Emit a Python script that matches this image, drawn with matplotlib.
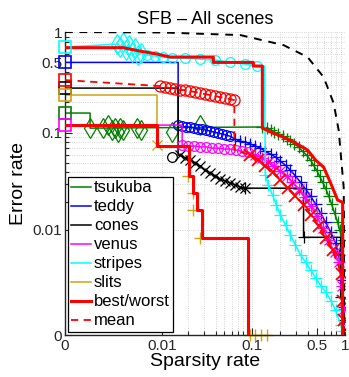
import matplotlib
matplotlib.use("Agg")
import matplotlib.pyplot as plt
import numpy as np

plt.rcParams['font.family'] = ['Liberation Sans', 'DejaVu Sans']

# ---- data (sparsity, error rate) ----
oracle_x = [0, 0.01, 0.0746, 0.218, 0.395, 0.588, 0.752, 0.852, 0.964, 1.0]
oracle_y = [1.0, 0.99, 0.933, 0.742, 0.565, 0.357, 0.197, 0.106, 0.0282, 0.0]

# tsukuba
tsu_start = 0.157
tsu_dia_x = [0.00086, 0.00156, 0.0019, 0.0022, 0.0024, 0.0027, 0.0029, 0.0032, 0.0049, 0.0056, 0.0131, 0.027]
tsu_dia_y = [0.111, 0.111, 0.119, 0.106, 0.111, 0.101, 0.111, 0.106, 0.111, 0.106, 0.101, 0.119]
tsu_plus_x = [0.129, 0.143, 0.158, 0.174, 0.1925, 0.213, 0.235, 0.259, 0.286, 0.316, 0.349, 0.386,
              0.426, 0.458, 0.494, 0.532, 0.573, 0.617, 0.665, 0.716, 0.771, 0.831, 0.873, 0.94]
tsu_plus_y = [0.114, 0.111, 0.106, 0.101, 0.097, 0.092, 0.086, 0.082, 0.077, 0.072, 0.065, 0.0595,
              0.053, 0.047, 0.042, 0.0365, 0.0317, 0.0275, 0.0228, 0.0188, 0.0151, 0.0121, 0.0100, 0.0077]

# teddy
ted_start = 0.50
ted_circ_x = [0.0153, 0.017, 0.0189, 0.021, 0.0233, 0.0258, 0.0286, 0.0316, 0.035, 0.0388, 0.0429, 0.0475, 0.0525, 0.058]
ted_circ_y = [0.119, 0.116, 0.114, 0.114, 0.111, 0.1086, 0.1086, 0.106, 0.1037, 0.101, 0.099, 0.097, 0.0945, 0.092]
ted_plus_x = [0.0658, 0.0746, 0.0846, 0.0958, 0.1086, 0.123, 0.139, 0.158, 0.179, 0.202, 0.229, 0.259,
              0.293, 0.332, 0.376, 0.426, 0.482, 0.545, 0.617, 0.699, 0.79, 0.852, 0.94, 0.964]
ted_plus_y = [0.086, 0.082, 0.0805, 0.077, 0.0734, 0.070, 0.065, 0.061, 0.0569, 0.0518, 0.047, 0.042,
              0.0365, 0.0317, 0.0269, 0.0228, 0.0188, 0.0151, 0.0121, 0.0095, 0.0071, 0.0052, 0.0025, 0.0009]

# cones
con_start = 0.278
con_circ_x = [0.0131]
con_circ_y = [0.0569]
con_x_x = [0.0162, 0.0184, 0.021, 0.0239, 0.027, 0.0308, 0.035, 0.0398, 0.045, 0.0512, 0.058, 0.0658, 0.0746, 0.0846]
con_x_y = [0.0595, 0.0556, 0.053, 0.0495, 0.0461, 0.042, 0.0392, 0.0365, 0.034, 0.0325, 0.031, 0.0296, 0.0282, 0.0275]
con_plus_x = [0.0846, 0.358, 0.895, 0.964]
con_plus_y = [0.0275, 0.0083, 0.0014, 0.0004]

# venus
ven_start = 0.119
ven_circ_x = [0.017, 0.0199, 0.0233, 0.027, 0.0316, 0.0369, 0.0429, 0.0499, 0.058, 0.0675, 0.0785, 0.0912]
ven_circ_y = [0.075, 0.0734, 0.0734, 0.072, 0.072, 0.070, 0.070, 0.0685, 0.0685, 0.067, 0.065, 0.0638]
ven_x_x = [0.1086, 0.129, 0.150, 0.174, 0.202, 0.235, 0.272, 0.316, 0.367, 0.426, 0.494, 0.573, 0.665,
           0.771, 0.852, 0.917, 0.964]
ven_x_y = [0.0595, 0.0556, 0.0506, 0.0461, 0.041, 0.0365, 0.0317, 0.0269, 0.0222, 0.0179, 0.0141, 0.0105,
           0.0077, 0.0056, 0.0043, 0.0021, 0.0008]

# stripes
str_start = 0.709
str_dia_x = [0.0026, 0.0029, 0.0032, 0.0035, 0.0039, 0.0042, 0.0046, 0.0051, 0.0055]
str_dia_y = [0.76, 0.709, 0.795, 0.662, 0.742, 0.633, 0.693, 0.591, 0.619]
str_circ_x = [0.0066, 0.0083, 0.0103, 0.0131, 0.0184, 0.027, 0.0398, 0.058, 0.0846, 0.114]
str_circ_y = [0.591, 0.578, 0.565, 0.552, 0.552, 0.539, 0.527, 0.50, 0.481, 0.46]
str_plus_x = [0.139, 0.150, 0.166, 0.183, 0.202, 0.229, 0.259, 0.293, 0.332, 0.376, 0.426, 0.482,
              0.545, 0.617, 0.699, 0.79, 0.895, 0.94]
str_plus_y = [0.0374, 0.0296, 0.0233, 0.0184, 0.0144, 0.0113, 0.0088, 0.0068, 0.0052, 0.0043, 0.0034,
              0.0027, 0.0021, 0.0017, 0.0012, 0.00077, 0.00026, 0.0001]

# slits
sli_start = 0.237
sli_line_x = [0, 0.0087, 0.0087, 0.0204, 0.0204, 0.0227, 0.0227, 0.0251, 0.0251, 0.0286, 0.0286, 0.0912, 0.0912]
sli_line_y = [0.237, 0.237, 0.0734, 0.0734, 0.037, 0.037, 0.0245, 0.0245, 0.0163, 0.0163, 0.0081, 0.0081, 0]
sli_plus_x = [0.0199, 0.0227, 0.0227, 0.027, 0.0958, 0.1086, 0.126, 0.143]
sli_plus_y = [0.037, 0.0245, 0.0163, 0.0081, 0, 0, 0, 0]

# best / worst envelope
worst_x = [0, 0.0032, 0.0054, 0.0087, 0.0124, 0.0378, 0.0378, 0.103, 0.103, 0.129, 0.129, 0.170,
           0.259, 0.395, 0.482, 0.588, 0.699, 0.831, 0.94, 0.94]
worst_y = [0.70, 0.70, 0.647, 0.605, 0.565, 0.565, 0.50, 0.50, 0.46, 0.46, 0.111, 0.099, 0.084,
           0.067, 0.053, 0.045, 0.031, 0.0207, 0.0197, 0]
best_x = [0, 0.0087, 0.0087, 0.0204, 0.0204, 0.0227, 0.0227, 0.0251, 0.0251, 0.0286, 0.0286, 0.0912, 0.0912]
best_y = [0.119, 0.119, 0.0734, 0.0734, 0.037, 0.037, 0.0245, 0.0245, 0.0163, 0.0163, 0.0081, 0.0081, 0]

# mean
mean_start = 0.334
mean_circ_x = [0.0095, 0.0108, 0.0124, 0.0142, 0.0162, 0.0184, 0.021, 0.0239, 0.027, 0.0308, 0.035,
               0.0398, 0.045, 0.0512, 0.058, 0.0642]
mean_circ_y = [0.291, 0.284, 0.278, 0.272, 0.266, 0.266, 0.259, 0.254, 0.248, 0.242, 0.237, 0.231,
               0.226, 0.221, 0.216, 0.211]
mean_x_x = [0.0958, 0.117, 0.139, 0.166, 0.202, 0.241, 0.293, 0.358, 0.426, 0.519, 0.617, 0.734,
            0.917, 0.94, 0.964]
mean_x_y = [0.0595, 0.053, 0.0461, 0.0401, 0.033, 0.0275, 0.0228, 0.0184, 0.0144, 0.011, 0.0081,
            0.0059, 0.003, 0.0012, 0.0004]

GREEN = '#008000'
BLUE = '#0000ff'
BLACK = '#000000'
MAGENTA = '#ff00ff'
CYAN = '#00ffff'
GOLD = '#c9a512'
RED = '#ff0000'


def fwd(v):
    v = np.asarray(v, dtype=float)
    return np.log10(np.maximum(v, -0.0009) + 0.001)


def inv(v):
    return 10 ** np.asarray(v, dtype=float) - 0.001


fig = plt.figure(figsize=(3.49, 3.77), dpi=100)
ax = fig.add_axes([0.186, 0.111, 0.803, 0.804])
ax.set_xscale('function', functions=(fwd, inv))
ax.set_yscale('function', functions=(fwd, inv))


def mk(xs, ys, color, marker, ms, lw=0.9):
    ax.plot(xs, ys, linestyle='none', marker=marker, markersize=ms, markerfacecolor='none',
            markeredgecolor=color, markeredgewidth=lw)


def start_square(y, color):
    ax.plot([0], [y], linestyle='none', marker='s', markersize=9, markerfacecolor='none',
            markeredgecolor=color, markeredgewidth=1.2, clip_on=False, zorder=5)


# tsukuba
ax.plot([0, tsu_dia_x[0], tsu_dia_x[0]] + tsu_plus_x + [0.94],
        [tsu_start, tsu_start, tsu_dia_y[0]] + tsu_plus_y + [0], color=GREEN, lw=1.1, label='tsukuba')
mk(tsu_dia_x, tsu_dia_y, GREEN, 'd', 10)
mk(tsu_plus_x, tsu_plus_y, GREEN, '+', 9)
start_square(tsu_start, GREEN)

# teddy
ax.plot([0, ted_circ_x[0]] + ted_circ_x + ted_plus_x + [0.964],
        [ted_start, ted_start] + ted_circ_y + ted_plus_y + [0], color=BLUE, lw=1.1, label='teddy')
mk(ted_circ_x, ted_circ_y, BLUE, 'o', 7)
mk(ted_plus_x, ted_plus_y, BLUE, '+', 9)
start_square(ted_start, BLUE)

# cones
ax.plot([0, 0.0153, 0.0153] + con_x_x + [0.358, 0.358, 0.895, 0.895, 0.964, 0.964],
        [con_start, con_start, con_x_y[0]] + con_x_y + [0.0275, 0.0083, 0.0083, 0.0014, 0.0014, 0],
        color=BLACK, lw=1.1, label='cones')
mk(con_circ_x, con_circ_y, BLACK, 'o', 7)
mk(con_x_x, con_x_y, BLACK, 'x', 7)
mk(con_plus_x, con_plus_y, BLACK, '+', 9)
start_square(con_start, BLACK)

# venus
ax.plot([0, ven_circ_x[0]] + ven_circ_x + ven_x_x + [0.964],
        [ven_start, ven_start] + ven_circ_y + ven_x_y + [0], color=MAGENTA, lw=1.1, label='venus')
mk(ven_circ_x, ven_circ_y, MAGENTA, 'o', 7)
mk(ven_x_x, ven_x_y, MAGENTA, 'x', 7)
mk(ven_x_x, ven_x_y, MAGENTA, '+', 8)
start_square(ven_start, MAGENTA)

# stripes
ax.plot([0] + str_dia_x + str_circ_x + [0.136] + str_plus_x + [0.94],
        [str_start] + str_dia_y + str_circ_y + [str_circ_y[-1]] + str_plus_y + [0],
        color=CYAN, lw=1.1, label='stripes')
mk(str_dia_x, str_dia_y, CYAN, 'd', 10)
mk(str_circ_x, str_circ_y, CYAN, 'o', 7)
mk(str_plus_x, str_plus_y, CYAN, '+', 9)
start_square(str_start, CYAN)

# slits
ax.plot(sli_line_x, sli_line_y, color=GOLD, lw=1.1, label='slits')
mk([0.0087], [0.075], GOLD, 'x', 7)
ax.plot(sli_plus_x, sli_plus_y, linestyle='none', marker='+', markersize=9,
        markeredgecolor=GOLD, markeredgewidth=1.0, clip_on=False)
start_square(sli_start, GOLD)

# best / worst and mean
ax.plot(worst_x, worst_y, color=RED, lw=2.2, label='best/worst', zorder=4)
ax.plot(best_x, best_y, color=RED, lw=2.2, zorder=4)
ax.plot([0] + mean_circ_x + [0.0642] + mean_x_x + [0.964],
        [mean_start] + mean_circ_y + [0.067] + mean_x_y + [0], color=RED, lw=1.3, ls='--',
        dashes=(4, 3), label='mean', zorder=4)
mk(mean_circ_x, mean_circ_y, RED, 'o', 8)
mk(mean_x_x, mean_x_y, RED, 'x', 8, 1.3)
start_square(mean_start, RED)

# oracle curve
ax.plot(oracle_x, oracle_y, color='black', lw=1.4, ls=(0, (4, 3.5)), zorder=3)

ax.set_xlim(0, 1)
ax.set_ylim(0, 1)
ticks = [0, 0.01, 0.1, 0.5, 1]
labels = ['0', '0.01', '0.1', '0.5', '1']
minors = [0.02, 0.03, 0.04, 0.05, 0.06, 0.07, 0.08, 0.09, 0.2, 0.3, 0.4, 0.6, 0.7, 0.8, 0.9]
ax.set_xticks(ticks)
ax.set_xticklabels(labels)
ax.set_yticks(ticks)
ax.set_yticklabels(labels)
ax.set_xticks(minors, minor=True)
ax.set_yticks(minors, minor=True)
ax.tick_params(which='both', direction='in', labelsize=11, colors='#262626', width=0.8)
ax.tick_params(which='major', length=5)
ax.tick_params(which='minor', length=3)
ax.tick_params(axis='x', pad=3)
ax.tick_params(axis='y', pad=2)
ax.grid(True, which='both', linestyle=':', color='#c8c8c8', linewidth=0.6)
for side in ['top', 'right']:
    ax.spines[side].set_visible(False)
for side in ['left', 'bottom']:
    ax.spines[side].set_color('#262626')
    ax.spines[side].set_linewidth(1.0)

ax.set_xlabel('Sparsity rate', fontsize=14, labelpad=0)
ax.set_ylabel('Error rate', fontsize=14, labelpad=4)
ax.set_title('SFB \u2013 All scenes', fontsize=13, pad=6)

leg = ax.legend(loc='lower left', bbox_to_anchor=(0.01, 0.01), borderaxespad=0, fontsize=12,
                handlelength=1.2, handletextpad=0.15, labelspacing=0.24, borderpad=0.22,
                fancybox=False, framealpha=1, edgecolor='black')
leg.get_frame().set_linewidth(0.9)
leg.set_zorder(10)

fig.savefig('out.png', dpi=100)
